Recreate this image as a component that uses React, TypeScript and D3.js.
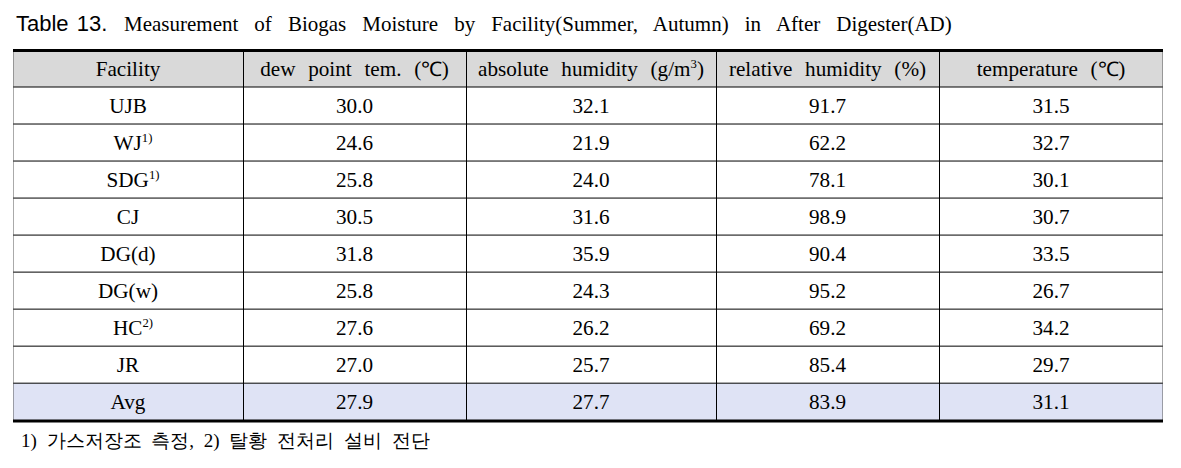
import React from "react";
import * as d3 from "d3";

const titleLabel = "Table 13.";
const titleText = "Measurement of Biogas Moisture by Facility(Summer, Autumn) in After Digester(AD)";
const facilities = ["UJB", "WJ", "SDG", "CJ", "DG(d)", "DG(w)", "HC", "JR", "Avg"];
const facilityNotes = ["", "1)", "1)", "", "", "", "2)", "", ""];
const dewPoint = ["30.0", "24.6", "25.8", "30.5", "31.8", "25.8", "27.6", "27.0", "27.9"];
const absHumidity = ["32.1", "21.9", "24.0", "31.6", "35.9", "24.3", "26.2", "25.7", "27.7"];
const relHumidity = ["91.7", "62.2", "78.1", "98.9", "90.4", "95.2", "69.2", "85.4", "83.9"];
const temperature = ["31.5", "32.7", "30.1", "30.7", "33.5", "26.7", "34.2", "29.7", "31.1"];
const footnote = "1) 가스저장조 측정, 2) 탈황 전처리 설비 전단";

const W = 1181;
const H = 468;
const serif = "'Liberation Serif', 'Times New Roman', serif";
const sans = "'Liberation Sans', Arial, sans-serif";
const SX = 1.06;

export default function App() {
  const colEdges = [13, 243, 466, 716, 939, 1163];
  const left = colEdges[0];
  const right = colEdges[colEdges.length - 1];
  const top = 50.5;
  const headBottom = 87;
  const bodyBottom = 421;
  const rowIdx = facilities.map((_, i) => String(i));
  const y = d3.scaleBand<string>().domain(rowIdx).range([headBottom, bodyBottom - 0.8]);
  const cx = (i: number) => (colEdges[i] + colEdges[i + 1]) / 2;
  const columns = [dewPoint, absHumidity, relHumidity, temperature];
  const fs = 20;
  const tr = (x: number, yy: number) => `translate(${x},${yy}) scale(${SX},1)`;

  return (
    <svg width={W} height={H} style={{ position: "absolute", left: 0, top: 0, background: "#fff" }}>
      <rect x={0} y={0} width={W} height={H} fill="#fff" />
      {/* title */}
      <text x={16} y={31} fontSize={22} fill="#000" fontFamily={sans} style={{ wordSpacing: "2px" }}>
        {titleLabel}
      </text>
      <text x={124} y={31} fontSize={21} fill="#000" fontFamily={serif} style={{ wordSpacing: "10.8px" }}>
        {titleText}
      </text>

      {/* header background */}
      <rect x={left} y={top} width={right - left} height={headBottom - top} fill="#d9d9d9" />
      {/* avg background */}
      <rect
        x={left}
        y={y("8")!}
        width={right - left}
        height={bodyBottom - y("8")!}
        fill="#dfe3f5"
      />

      {/* horizontal lines */}
      {rowIdx.map((r) => (
        <line key={"h" + r} x1={left} x2={right} y1={y(r)!} y2={y(r)!} stroke="#000" strokeWidth={1} />
      ))}
      {/* vertical lines */}
      {colEdges.slice(1, -1).map((x, i) => (
        <line key={"v" + i} x1={x + 0.5} x2={x + 0.5} y1={top} y2={bodyBottom} stroke="#000" strokeWidth={1} />
      ))}
      {/* outer dashed sides */}
      <line x1={left + 0.5} x2={left + 0.5} y1={top} y2={bodyBottom} stroke="#555" strokeWidth={1} strokeDasharray="1,1" />
      <line x1={right - 0.5} x2={right - 0.5} y1={top} y2={bodyBottom} stroke="#555" strokeWidth={1} strokeDasharray="1,1" />
      {/* thick top/bottom */}
      <line x1={left} x2={right} y1={top} y2={top} stroke="#000" strokeWidth={3} />
      <line x1={left} x2={right} y1={bodyBottom} y2={bodyBottom} stroke="#000" strokeWidth={3} />

      {/* header text */}
      <g fontFamily={serif} fontSize={fs} fill="#000" textAnchor="middle" style={{ wordSpacing: "7px" }}>
        <text transform={tr(cx(0), 76)}>Facility</text>
        <text transform={tr(cx(1), 76)}>dew point tem. (℃)</text>
        <text transform={tr(cx(2), 76)}>
          absolute humidity (g/m
          <tspan fontSize={12} dy={-8}>3</tspan>
          <tspan dy={8}>)</tspan>
        </text>
        <text transform={tr(cx(3), 76)}>relative humidity (%)</text>
        <text transform={tr(cx(4), 76)}>temperature (℃)</text>
      </g>

      {/* body */}
      <g fontFamily={serif} fontSize={fs} fill="#000" textAnchor="middle">
        {facilities.map((f, i) => {
          const by = y(String(i))! + y.bandwidth() / 2 + 7;
          return (
            <g key={"r" + i}>
              <text transform={tr(cx(0) + (facilityNotes[i] ? 5 : 0), by)}>
                {f}
                {facilityNotes[i] ? (
                  <tspan fontSize={12} dy={-8}>{facilityNotes[i]}</tspan>
                ) : null}
              </text>
              {columns.map((col, c) => (
                <text key={c} transform={tr(cx(c + 1), by)}>{col[i]}</text>
              ))}
            </g>
          );
        })}
      </g>

      {/* footnote */}
      <text x={21} y={447} fontFamily={serif} fontSize={19} fill="#000" style={{ wordSpacing: "5px" }}>
        {footnote}
      </text>
    </svg>
  );
}
